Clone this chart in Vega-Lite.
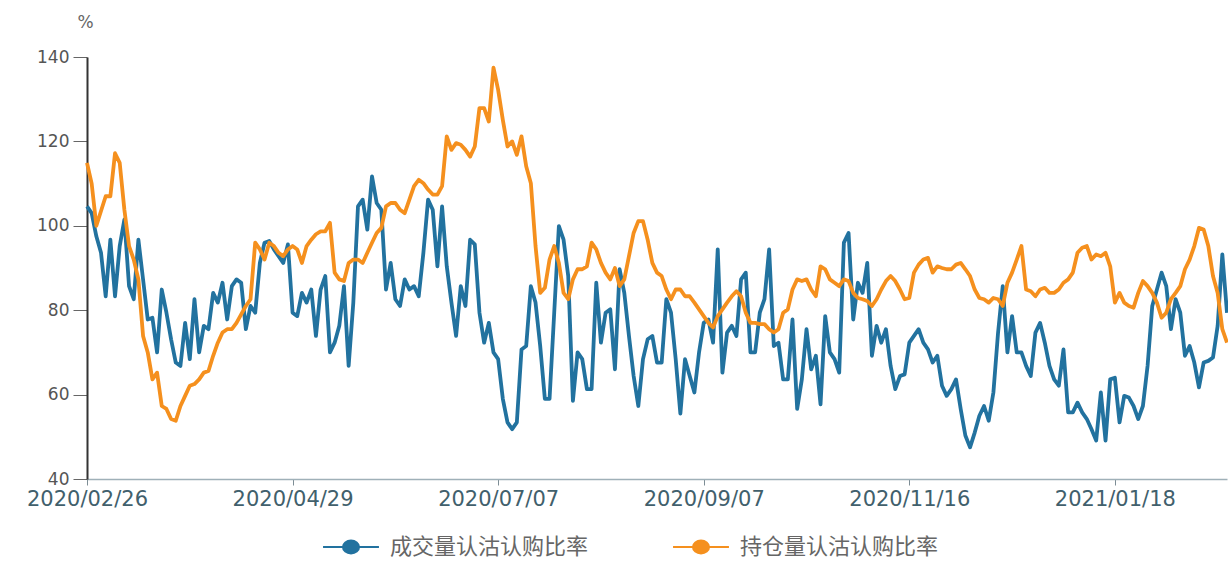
{
"$schema": "https://vega.github.io/schema/vega-lite/v6.json",
"width": 1140, "height": 422,
"autosize": {"type": "none"},
"padding": {"left": 87, "top": 57, "right": 1, "bottom": 82},
"background": "white",
"config": {"view": {"stroke": null}, "font": "DejaVu Sans"},
"data": {"values": [
{"d":"2020/02/26","成交量认沽认购比率":104.6,"持仓量认沽认购比率":114.9},
{"d":"2020/02/27","成交量认沽认购比率":103,"持仓量认沽认购比率":110},
{"d":"2020/02/28","成交量认沽认购比率":97.5,"持仓量认沽认购比率":100},
{"d":"2020/03/02","成交量认沽认购比率":93.6,"持仓量认沽认购比率":103.5},
{"d":"2020/03/03","成交量认沽认购比率":83.3,"持仓量认沽认购比率":107},
{"d":"2020/03/04","成交量认沽认购比率":96.7,"持仓量认沽认购比率":107},
{"d":"2020/03/05","成交量认沽认购比率":83.3,"持仓量认沽认购比率":117.2},
{"d":"2020/03/06","成交量认沽认购比率":95.2,"持仓量认沽认购比率":114.9},
{"d":"2020/03/09","成交量认沽认购比率":101.5,"持仓量认沽认购比率":103.8},
{"d":"2020/03/10","成交量认沽认购比率":85.7,"持仓量认沽认购比率":95.2},
{"d":"2020/03/11","成交量认沽认购比率":82.6,"持仓量认沽认购比率":92},
{"d":"2020/03/12","成交量认沽认购比率":96.7,"持仓量认沽认购比率":87.3},
{"d":"2020/03/13","成交量认沽认购比率":87.3,"持仓量认沽认购比率":73.9},
{"d":"2020/03/16","成交量认沽认购比率":77.8,"持仓量认沽认购比率":70},
{"d":"2020/03/17","成交量认沽认购比率":78.2,"持仓量认沽认购比率":63.6},
{"d":"2020/03/18","成交量认沽认购比率":70,"持仓量认沽认购比率":65.2},
{"d":"2020/03/19","成交量认沽认购比率":84.9,"持仓量认沽认购比率":57.3},
{"d":"2020/03/20","成交量认沽认购比率":79.4,"持仓量认沽认购比率":56.6},
{"d":"2020/03/23","成交量认沽认购比率":73.1,"持仓量认沽认购比率":54.2},
{"d":"2020/03/24","成交量认沽认购比率":67.6,"持仓量认沽认购比率":53.8},
{"d":"2020/03/25","成交量认沽认购比率":66.8,"持仓量认沽认购比率":57.3},
{"d":"2020/03/26","成交量认沽认购比率":77,"持仓量认沽认购比率":59.7},
{"d":"2020/03/27","成交量认沽认购比率":68.4,"持仓量认沽认购比率":62.1},
{"d":"2020/03/30","成交量认沽认购比率":82.6,"持仓量认沽认购比率":62.5},
{"d":"2020/03/31","成交量认沽认购比率":70,"持仓量认沽认购比率":63.6},
{"d":"2020/04/01","成交量认沽认购比率":76.3,"持仓量认沽认购比率":65.2},
{"d":"2020/04/02","成交量认沽认购比率":75.5,"持仓量认沽认购比率":65.6},
{"d":"2020/04/03","成交量认沽认购比率":84.1,"持仓量认沽认购比率":69.2},
{"d":"2020/04/07","成交量认沽认购比率":81.8,"持仓量认沽认购比率":72.3},
{"d":"2020/04/08","成交量认沽认购比率":86.5,"持仓量认沽认购比率":74.7},
{"d":"2020/04/09","成交量认沽认购比率":77.8,"持仓量认沽认购比率":75.5},
{"d":"2020/04/10","成交量认沽认购比率":85.7,"持仓量认沽认购比率":75.5},
{"d":"2020/04/13","成交量认沽认购比率":87.3,"持仓量认沽认购比率":77},
{"d":"2020/04/14","成交量认沽认购比率":86.5,"持仓量认沽认购比率":79},
{"d":"2020/04/15","成交量认沽认购比率":75.5,"持仓量认沽认购比率":81},
{"d":"2020/04/16","成交量认沽认购比率":81,"持仓量认沽认购比率":82.6},
{"d":"2020/04/17","成交量认沽认购比率":79.4,"持仓量认沽认购比率":96},
{"d":"2020/04/20","成交量认沽认购比率":91.2,"持仓量认沽认购比率":94.4},
{"d":"2020/04/21","成交量认沽认购比率":96,"持仓量认沽认购比率":92},
{"d":"2020/04/22","成交量认沽认购比率":96.4,"持仓量认沽认购比率":96},
{"d":"2020/04/23","成交量认沽认购比率":94.4,"持仓量认沽认购比率":95.2},
{"d":"2020/04/24","成交量认沽认购比率":92.8,"持仓量认沽认购比率":93.6},
{"d":"2020/04/27","成交量认沽认购比率":91.2,"持仓量认沽认购比率":92.8},
{"d":"2020/04/28","成交量认沽认购比率":95.6,"持仓量认沽认购比率":94.4},
{"d":"2020/04/29","成交量认沽认购比率":79.4,"持仓量认沽认购比率":95.2},
{"d":"2020/04/30","成交量认沽认购比率":78.6,"持仓量认沽认购比率":94.4},
{"d":"2020/05/06","成交量认沽认购比率":84.1,"持仓量认沽认购比率":91.2},
{"d":"2020/05/07","成交量认沽认购比率":81.8,"持仓量认沽认购比率":95.2},
{"d":"2020/05/08","成交量认沽认购比率":84.9,"持仓量认沽认购比率":96.7},
{"d":"2020/05/11","成交量认沽认购比率":73.9,"持仓量认沽认购比率":98},
{"d":"2020/05/12","成交量认沽认购比率":84.9,"持仓量认沽认购比率":98.7},
{"d":"2020/05/13","成交量认沽认购比率":88.1,"持仓量认沽认购比率":98.7},
{"d":"2020/05/14","成交量认沽认购比率":70,"持仓量认沽认购比率":100.7},
{"d":"2020/05/15","成交量认沽认购比率":72.3,"持仓量认沽认购比率":88.9},
{"d":"2020/05/18","成交量认沽认购比率":76.3,"持仓量认沽认购比率":87.3},
{"d":"2020/05/19","成交量认沽认购比率":85.7,"持仓量认沽认购比率":86.9},
{"d":"2020/05/20","成交量认沽认购比率":66.8,"持仓量认沽认购比率":91.2},
{"d":"2020/05/21","成交量认沽认购比率":81.8,"持仓量认沽认购比率":92},
{"d":"2020/05/22","成交量认沽认购比率":104.6,"持仓量认沽认购比率":92},
{"d":"2020/05/25","成交量认沽认购比率":106.2,"持仓量认沽认购比率":91.2},
{"d":"2020/05/26","成交量认沽认购比率":99.1,"持仓量认沽认购比率":93.6},
{"d":"2020/05/27","成交量认沽认购比率":111.7,"持仓量认沽认购比率":96},
{"d":"2020/05/28","成交量认沽认购比率":105.4,"持仓量认沽认购比率":98.3},
{"d":"2020/05/29","成交量认沽认购比率":103.8,"持仓量认沽认购比率":99.5},
{"d":"2020/06/01","成交量认沽认购比率":84.9,"持仓量认沽认购比率":104.6},
{"d":"2020/06/02","成交量认沽认购比率":91.2,"持仓量认沽认购比率":105.4},
{"d":"2020/06/03","成交量认沽认购比率":82.6,"持仓量认沽认购比率":105.4},
{"d":"2020/06/04","成交量认沽认购比率":81,"持仓量认沽认购比率":103.8},
{"d":"2020/06/05","成交量认沽认购比率":87.3,"持仓量认沽认购比率":103},
{"d":"2020/06/08","成交量认沽认购比率":84.9,"持仓量认沽认购比率":106.2},
{"d":"2020/06/09","成交量认沽认购比率":85.7,"持仓量认沽认购比率":109.4},
{"d":"2020/06/10","成交量认沽认购比率":83.3,"持仓量认沽认购比率":110.9},
{"d":"2020/06/11","成交量认沽认购比率":93.6,"持仓量认沽认购比率":110.1},
{"d":"2020/06/12","成交量认沽认购比率":106.2,"持仓量认沽认购比率":108.6},
{"d":"2020/06/15","成交量认沽认购比率":103.8,"持仓量认沽认购比率":107.4},
{"d":"2020/06/16","成交量认沽认购比率":90.4,"持仓量认沽认购比率":107.4},
{"d":"2020/06/17","成交量认沽认购比率":104.6,"持仓量认沽认购比率":109.4},
{"d":"2020/06/18","成交量认沽认购比率":90.4,"持仓量认沽认购比率":121.2},
{"d":"2020/06/19","成交量认沽认购比率":81.8,"持仓量认沽认购比率":118},
{"d":"2020/06/22","成交量认沽认购比率":73.9,"持仓量认沽认购比率":119.6},
{"d":"2020/06/23","成交量认沽认购比率":85.7,"持仓量认沽认购比率":119.2},
{"d":"2020/06/24","成交量认沽认购比率":81,"持仓量认沽认购比率":118},
{"d":"2020/06/29","成交量认沽认购比率":96.7,"持仓量认沽认购比率":116.4},
{"d":"2020/06/30","成交量认沽认购比率":95.6,"持仓量认沽认购比率":118.8},
{"d":"2020/07/01","成交量认沽认购比率":79.4,"持仓量认沽认购比率":127.9},
{"d":"2020/07/02","成交量认沽认购比率":72.3,"持仓量认沽认购比率":127.9},
{"d":"2020/07/03","成交量认沽认购比率":77,"持仓量认沽认购比率":124.7},
{"d":"2020/07/06","成交量认沽认购比率":70,"持仓量认沽认购比率":137.5},
{"d":"2020/07/07","成交量认沽认购比率":68.4,"持仓量认沽认购比率":132.2},
{"d":"2020/07/08","成交量认沽认购比率":59,"持仓量认沽认购比率":125.1},
{"d":"2020/07/09","成交量认沽认购比率":53.4,"持仓量认沽认购比率":118.8},
{"d":"2020/07/10","成交量认沽认购比率":51.8,"持仓量认沽认购比率":120},
{"d":"2020/07/13","成交量认沽认购比率":53.4,"持仓量认沽认购比率":116.8},
{"d":"2020/07/14","成交量认沽认购比率":70.7,"持仓量认沽认购比率":121.2},
{"d":"2020/07/15","成交量认沽认购比率":71.5,"持仓量认沽认购比率":114.1},
{"d":"2020/07/16","成交量认沽认购比率":85.7,"持仓量认沽认购比率":110.1},
{"d":"2020/07/17","成交量认沽认购比率":81.8,"持仓量认沽认购比率":95.2},
{"d":"2020/07/20","成交量认沽认购比率":71.5,"持仓量认沽认购比率":84.1},
{"d":"2020/07/21","成交量认沽认购比率":59,"持仓量认沽认购比率":85.3},
{"d":"2020/07/22","成交量认沽认购比率":59,"持仓量认沽认购比率":92},
{"d":"2020/07/23","成交量认沽认购比率":79.4,"持仓量认沽认购比率":95.2},
{"d":"2020/07/24","成交量认沽认购比率":99.9,"持仓量认沽认购比率":91.2},
{"d":"2020/07/27","成交量认沽认购比率":96.7,"持仓量认沽认购比率":84.1},
{"d":"2020/07/28","成交量认沽认购比率":88.1,"持仓量认沽认购比率":82.6},
{"d":"2020/07/29","成交量认沽认购比率":58.5,"持仓量认沽认购比率":87.3},
{"d":"2020/07/30","成交量认沽认购比率":70,"持仓量认沽认购比率":89.7},
{"d":"2020/07/31","成交量认沽认购比率":68.4,"持仓量认沽认购比率":89.7},
{"d":"2020/08/03","成交量认沽认购比率":61.3,"持仓量认沽认购比率":90.4},
{"d":"2020/08/04","成交量认沽认购比率":61.3,"持仓量认沽认购比率":96},
{"d":"2020/08/05","成交量认沽认购比率":86.5,"持仓量认沽认购比率":94.4},
{"d":"2020/08/06","成交量认沽认购比率":72.3,"持仓量认沽认购比率":91.2},
{"d":"2020/08/07","成交量认沽认购比率":79.4,"持仓量认沽认购比率":88.9},
{"d":"2020/08/10","成交量认沽认购比率":80.2,"持仓量认沽认购比率":87.3},
{"d":"2020/08/11","成交量认沽认购比率":66,"持仓量认沽认购比率":90},
{"d":"2020/08/12","成交量认沽认购比率":89.7,"持仓量认沽认购比率":85.7},
{"d":"2020/08/13","成交量认沽认购比率":84.1,"持仓量认沽认购比率":87.3},
{"d":"2020/08/14","成交量认沽认购比率":73.9,"持仓量认沽认购比率":92.8},
{"d":"2020/08/17","成交量认沽认购比率":64.4,"持仓量认沽认购比率":98.3},
{"d":"2020/08/18","成交量认沽认购比率":57.3,"持仓量认沽认购比率":101.1},
{"d":"2020/08/19","成交量认沽认购比率":68.4,"持仓量认沽认购比率":101.1},
{"d":"2020/08/20","成交量认沽认购比率":73.1,"持仓量认沽认购比率":96.7},
{"d":"2020/08/21","成交量认沽认购比率":73.9,"持仓量认沽认购比率":91.2},
{"d":"2020/08/24","成交量认沽认购比率":67.6,"持仓量认沽认购比率":88.9},
{"d":"2020/08/25","成交量认沽认购比率":67.6,"持仓量认沽认购比率":88.1},
{"d":"2020/08/26","成交量认沽认购比率":82.6,"持仓量认沽认购比率":84.9},
{"d":"2020/08/27","成交量认沽认购比率":79.4,"持仓量认沽认购比率":82.6},
{"d":"2020/08/28","成交量认沽认购比率":68.4,"持仓量认沽认购比率":84.9},
{"d":"2020/08/31","成交量认沽认购比率":55.5,"持仓量认沽认购比率":84.9},
{"d":"2020/09/01","成交量认沽认购比率":68.4,"持仓量认沽认购比率":83.3},
{"d":"2020/09/02","成交量认沽认购比率":64.4,"持仓量认沽认购比率":83.3},
{"d":"2020/09/03","成交量认沽认购比率":60.5,"持仓量认沽认购比率":81.8},
{"d":"2020/09/04","成交量认沽认购比率":70,"持仓量认沽认购比率":80.2},
{"d":"2020/09/07","成交量认沽认购比率":77,"持仓量认沽认购比率":78.6},
{"d":"2020/09/08","成交量认沽认购比率":77.8,"持仓量认沽认购比率":77},
{"d":"2020/09/09","成交量认沽认购比率":72.3,"持仓量认沽认购比率":75.9},
{"d":"2020/09/10","成交量认沽认购比率":94.4,"持仓量认沽认购比率":78.6},
{"d":"2020/09/11","成交量认沽认购比率":65.2,"持仓量认沽认购比率":80.2},
{"d":"2020/09/14","成交量认沽认购比率":74.7,"持仓量认沽认购比率":81.8},
{"d":"2020/09/15","成交量认沽认购比率":76.3,"持仓量认沽认购比率":83.3},
{"d":"2020/09/16","成交量认沽认购比率":73.9,"持仓量认沽认购比率":84.5},
{"d":"2020/09/17","成交量认沽认购比率":87.3,"持仓量认沽认购比率":83.3},
{"d":"2020/09/18","成交量认沽认购比率":88.9,"持仓量认沽认购比率":79.4},
{"d":"2020/09/21","成交量认沽认购比率":70,"持仓量认沽认购比率":77},
{"d":"2020/09/22","成交量认沽认购比率":70,"持仓量认沽认购比率":77},
{"d":"2020/09/23","成交量认沽认购比率":79.4,"持仓量认沽认购比率":76.7},
{"d":"2020/09/24","成交量认沽认购比率":82.6,"持仓量认沽认购比率":76.7},
{"d":"2020/09/25","成交量认沽认购比率":94.4,"持仓量认沽认购比率":75.5},
{"d":"2020/09/28","成交量认沽认购比率":71.5,"持仓量认沽认购比率":74.7},
{"d":"2020/09/29","成交量认沽认购比率":72.3,"持仓量认沽认购比率":75.5},
{"d":"2020/09/30","成交量认沽认购比率":63.6,"持仓量认沽认购比率":79.4},
{"d":"2020/10/09","成交量认沽认购比率":63.6,"持仓量认沽认购比率":80.2},
{"d":"2020/10/12","成交量认沽认购比率":77.8,"持仓量认沽认购比率":84.9},
{"d":"2020/10/13","成交量认沽认购比率":56.6,"持仓量认沽认购比率":87.3},
{"d":"2020/10/14","成交量认沽认购比率":63.6,"持仓量认沽认购比率":86.9},
{"d":"2020/10/15","成交量认沽认购比率":75.5,"持仓量认沽认购比率":87.3},
{"d":"2020/10/16","成交量认沽认购比率":66,"持仓量认沽认购比率":84.9},
{"d":"2020/10/19","成交量认沽认购比率":69.2,"持仓量认沽认购比率":83.3},
{"d":"2020/10/20","成交量认沽认购比率":57.7,"持仓量认沽认购比率":90.4},
{"d":"2020/10/21","成交量认沽认购比率":78.6,"持仓量认沽认购比率":89.7},
{"d":"2020/10/22","成交量认沽认购比率":70,"持仓量认沽认购比率":87.3},
{"d":"2020/10/23","成交量认沽认购比率":68.4,"持仓量认沽认购比率":86.5},
{"d":"2020/10/26","成交量认沽认购比率":65.2,"持仓量认沽认购比率":85.7},
{"d":"2020/10/27","成交量认沽认购比率":96,"持仓量认沽认购比率":87.3},
{"d":"2020/10/28","成交量认沽认购比率":98.3,"持仓量认沽认购比率":86.9},
{"d":"2020/10/29","成交量认沽认购比率":77.8,"持仓量认沽认购比率":84.1},
{"d":"2020/10/30","成交量认沽认购比率":86.5,"持仓量认沽认购比率":82.9},
{"d":"2020/11/02","成交量认沽认购比率":84.1,"持仓量认沽认购比率":82.6},
{"d":"2020/11/03","成交量认沽认购比率":91.2,"持仓量认沽认购比率":82.2},
{"d":"2020/11/04","成交量认沽认购比率":69.2,"持仓量认沽认购比率":81},
{"d":"2020/11/05","成交量认沽认购比率":76.3,"持仓量认沽认购比率":82.6},
{"d":"2020/11/06","成交量认沽认购比率":72.3,"持仓量认沽认购比率":84.9},
{"d":"2020/11/09","成交量认沽认购比率":75.5,"持仓量认沽认购比率":86.9},
{"d":"2020/11/10","成交量认沽认购比率":66.8,"持仓量认沽认购比率":88.1},
{"d":"2020/11/11","成交量认沽认购比率":61.3,"持仓量认沽认购比率":86.9},
{"d":"2020/11/12","成交量认沽认购比率":64.4,"持仓量认沽认购比率":84.9},
{"d":"2020/11/13","成交量认沽认购比率":64.8,"持仓量认沽认购比率":82.6},
{"d":"2020/11/16","成交量认沽认购比率":72.3,"持仓量认沽认购比率":82.9},
{"d":"2020/11/17","成交量认沽认购比率":73.9,"持仓量认沽认购比率":88.9},
{"d":"2020/11/18","成交量认沽认购比率":75.5,"持仓量认沽认购比率":90.8},
{"d":"2020/11/19","成交量认沽认购比率":72.3,"持仓量认沽认购比率":92},
{"d":"2020/11/20","成交量认沽认购比率":70.7,"持仓量认沽认购比率":92.4},
{"d":"2020/11/23","成交量认沽认购比率":67.6,"持仓量认沽认购比率":88.9},
{"d":"2020/11/24","成交量认沽认购比率":69.2,"持仓量认沽认购比率":90.4},
{"d":"2020/11/25","成交量认沽认购比率":62.1,"持仓量认沽认购比率":90},
{"d":"2020/11/26","成交量认沽认购比率":59.7,"持仓量认沽认购比率":89.7},
{"d":"2020/11/27","成交量认沽认购比率":61.3,"持仓量认沽认购比率":89.7},
{"d":"2020/11/30","成交量认沽认购比率":63.6,"持仓量认沽认购比率":90.8},
{"d":"2020/12/01","成交量认沽认购比率":56.6,"持仓量认沽认购比率":91.2},
{"d":"2020/12/02","成交量认沽认购比率":50.3,"持仓量认沽认购比率":89.7},
{"d":"2020/12/03","成交量认沽认购比率":47.5,"持仓量认沽认购比率":88.1},
{"d":"2020/12/04","成交量认沽认购比率":51,"持仓量认沽认购比率":84.9},
{"d":"2020/12/07","成交量认沽认购比率":55,"持仓量认沽认购比率":82.9},
{"d":"2020/12/08","成交量认沽认购比率":57.3,"持仓量认沽认购比率":82.6},
{"d":"2020/12/09","成交量认沽认购比率":53.8,"持仓量认沽认购比率":81.8},
{"d":"2020/12/10","成交量认沽认购比率":60.5,"持仓量认沽认购比率":82.9},
{"d":"2020/12/11","成交量认沽认购比率":74.7,"持仓量认沽认购比率":82.6},
{"d":"2020/12/14","成交量认沽认购比率":85.7,"持仓量认沽认购比率":81},
{"d":"2020/12/15","成交量认沽认购比率":70,"持仓量认沽认购比率":86.5},
{"d":"2020/12/16","成交量认沽认购比率":78.6,"持仓量认沽认购比率":88.9},
{"d":"2020/12/17","成交量认沽认购比率":70,"持仓量认沽认购比率":92},
{"d":"2020/12/18","成交量认沽认购比率":70,"持仓量认沽认购比率":95.2},
{"d":"2020/12/21","成交量认沽认购比率":66.8,"持仓量认沽认购比率":84.9},
{"d":"2020/12/22","成交量认沽认购比率":64.4,"持仓量认沽认购比率":84.5},
{"d":"2020/12/23","成交量认沽认购比率":74.7,"持仓量认沽认购比率":83.3},
{"d":"2020/12/24","成交量认沽认购比率":77,"持仓量认沽认购比率":84.9},
{"d":"2020/12/25","成交量认沽认购比率":72.3,"持仓量认沽认购比率":85.3},
{"d":"2020/12/28","成交量认沽认购比率":66.8,"持仓量认沽认购比率":84.1},
{"d":"2020/12/29","成交量认沽认购比率":63.6,"持仓量认沽认购比率":84.1},
{"d":"2020/12/30","成交量认沽认购比率":62.1,"持仓量认沽认购比率":84.9},
{"d":"2020/12/31","成交量认沽认购比率":70.7,"持仓量认沽认购比率":86.5},
{"d":"2021/01/04","成交量认沽认购比率":55.8,"持仓量认沽认购比率":87.3},
{"d":"2021/01/05","成交量认沽认购比率":55.8,"持仓量认沽认购比率":88.9},
{"d":"2021/01/06","成交量认沽认购比率":58.1,"持仓量认沽认购比率":93.6},
{"d":"2021/01/07","成交量认沽认购比率":55.8,"持仓量认沽认购比率":94.8},
{"d":"2021/01/08","成交量认沽认购比率":54.2,"持仓量认沽认购比率":95.2},
{"d":"2021/01/11","成交量认沽认购比率":51.8,"持仓量认沽认购比率":92},
{"d":"2021/01/12","成交量认沽认购比率":49.1,"持仓量认沽认购比率":93.2},
{"d":"2021/01/13","成交量认沽认购比率":60.5,"持仓量认沽认购比率":92.8},
{"d":"2021/01/14","成交量认沽认购比率":49.1,"持仓量认沽认购比率":93.6},
{"d":"2021/01/15","成交量认沽认购比率":63.6,"持仓量认沽认购比率":90.4},
{"d":"2021/01/18","成交量认沽认购比率":64,"持仓量认沽认购比率":81.8},
{"d":"2021/01/19","成交量认沽认购比率":53.4,"持仓量认沽认购比率":84.1},
{"d":"2021/01/20","成交量认沽认购比率":59.7,"持仓量认沽认购比率":81.8},
{"d":"2021/01/21","成交量认沽认购比率":59.3,"持仓量认沽认购比率":81},
{"d":"2021/01/22","成交量认沽认购比率":57.3,"持仓量认沽认购比率":80.6},
{"d":"2021/01/25","成交量认沽认购比率":54.2,"持仓量认沽认购比率":84.1},
{"d":"2021/01/26","成交量认沽认购比率":57.3,"持仓量认沽认购比率":86.9},
{"d":"2021/01/27","成交量认沽认购比率":66.8,"持仓量认沽认购比率":85.7},
{"d":"2021/01/28","成交量认沽认购比率":81,"持仓量认沽认购比率":84.1},
{"d":"2021/01/29","成交量认沽认购比率":84.9,"持仓量认沽认购比率":81.8},
{"d":"2021/02/01","成交量认沽认购比率":88.9,"持仓量认沽认购比率":78.2},
{"d":"2021/02/02","成交量认沽认购比率":85.7,"持仓量认沽认购比率":79.4},
{"d":"2021/02/03","成交量认沽认购比率":75.5,"持仓量认沽认购比率":82.6},
{"d":"2021/02/04","成交量认沽认购比率":82.6,"持仓量认沽认购比率":84.1},
{"d":"2021/02/05","成交量认沽认购比率":79.4,"持仓量认沽认购比率":85.7},
{"d":"2021/02/08","成交量认沽认购比率":69.2,"持仓量认沽认购比率":89.7},
{"d":"2021/02/09","成交量认沽认购比率":71.5,"持仓量认沽认购比率":92},
{"d":"2021/02/10","成交量认沽认购比率":67.6,"持仓量认沽认购比率":95.2},
{"d":"2021/02/18","成交量认沽认购比率":61.7,"持仓量认沽认购比率":99.5},
{"d":"2021/02/19","成交量认沽认购比率":67.6,"持仓量认沽认购比率":99.1},
{"d":"2021/02/22","成交量认沽认购比率":68,"持仓量认沽认购比率":95.2},
{"d":"2021/02/23","成交量认沽认购比率":68.8,"持仓量认沽认购比率":88.1},
{"d":"2021/02/24","成交量认沽认购比率":76.3,"持仓量认沽认购比率":84.1},
{"d":"2021/02/25","成交量认沽认购比率":93.2,"持仓量认沽认购比率":75.5},
{"d":"2021/02/26","成交量认沽认购比率":79.4,"持仓量认沽认购比率":72.3}
]},
"transform": [{"fold": ["成交量认沽认购比率", "持仓量认沽认购比率"], "as": ["series", "value"]}],
"mark": {"type": "line", "strokeWidth": 3.8, "strokeJoin": "round"},
"encoding": {
  "x": {"field": "d", "type": "ordinal", "scale": {"type": "point", "padding": 0},
        "axis": {"values": ["2020/02/26", "2020/04/29", "2020/07/07", "2020/09/07", "2020/11/16", "2021/01/18"],
                 "labelAngle": 0, "title": null, "domainColor": "#9fb0b8", "domainWidth": 1.5,
                 "tickColor": "#7d8d95", "tickSize": 6, "labelFontSize": 21, "labelColor": "#41606c",
                 "labelPadding": 3, "labelOverlap": false}},
  "y": {"field": "value", "type": "quantitative", "scale": {"domain": [40, 140], "nice": false, "zero": false},
        "axis": {"values": [40, 60, 80, 100, 120, 140], "grid": false, "title": "%", "titleAngle": 0,
                 "titleX": -2, "titleY": -35, "titleAlign": "center", "titleBaseline": "middle",
                 "titleFontWeight": "normal", "titleFontSize": 17, "titleColor": "#666",
                 "domainColor": "#333", "domainWidth": 2, "tickColor": "#666", "tickSize": 14,
                 "labelFontSize": 17, "labelColor": "#555", "labelPadding": 4}},
  "color": {"field": "series", "type": "nominal",
            "scale": {"domain": ["成交量认沽认购比率", "持仓量认沽认购比率"], "range": ["#22729f", "#f5901e"]},
            "legend": {"orient": "none", "legendX": 250, "legendY": 476, "direction": "horizontal", "columns": 2,
                       "title": null, "padding": 0,
                       "symbolType": "M-2.15,0H2.15M-0.62,0A0.62,0.5 0 1,0 0.62,0A0.62,0.5 0 1,0 -0.62,0Z",
                       "symbolSize": 676, "symbolStrokeWidth": 2,
                       "labelFont": "Noto Sans CJK SC", "labelFontSize": 22, "labelColor": "#666",
                       "labelLimit": 500, "labelOffset": 25, "columnPadding": 80,
                       "encode": {"symbols": {"update": {"fill": {"scale": "color", "field": "value"}}}}}}
}
}
